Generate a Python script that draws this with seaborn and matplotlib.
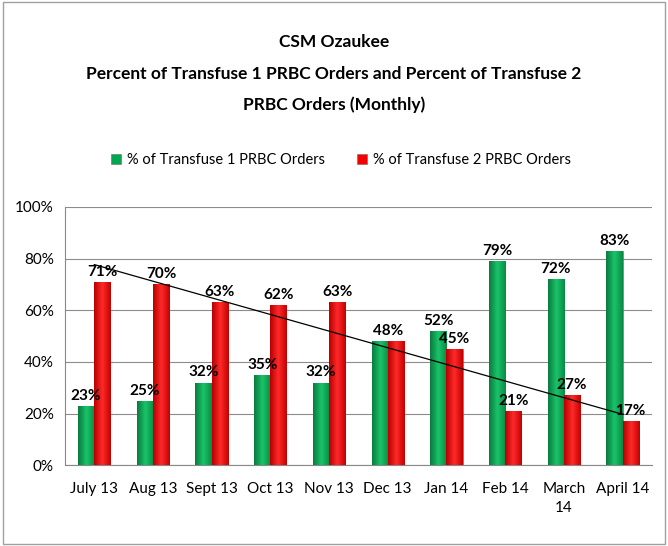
import numpy as np
import pandas as pd
import matplotlib
matplotlib.use('Agg')
import matplotlib.pyplot as plt
from matplotlib.colors import LinearSegmentedColormap
from matplotlib.patches import Rectangle
import seaborn as sns

# --- data ---
months = ['July 13', 'Aug 13', 'Sept 13', 'Oct 13', 'Nov 13', 'Dec 13',
          'Jan 14', 'Feb 14', 'March\n14', 'April 14']
transfuse_1 = [23, 25, 32, 35, 32, 48, 52, 79, 72, 83]
transfuse_2 = [71, 70, 63, 62, 63, 48, 45, 21, 27, 17]
series_names = ['% of Transfuse 1 PRBC Orders', '% of Transfuse 2 PRBC Orders']
title_lines = ['CSM Ozaukee',
               'Percent of Transfuse 1 PRBC Orders and Percent of Transfuse 2',
               'PRBC Orders (Monthly)']

df = pd.DataFrame({
    'month': months * 2,
    'pct': transfuse_1 + transfuse_2,
    'series': [series_names[0]] * len(months) + [series_names[1]] * len(months),
})

sns.set_style('white')
plt.rcParams['font.family'] = ['Lato', 'DejaVu Sans']
plt.rcParams['text.color'] = 'black'
plt.rcParams['xtick.color'] = 'black'
plt.rcParams['ytick.color'] = 'black'

fig = plt.figure(figsize=(6.68, 5.46), dpi=100)
ax = fig.add_axes([0.097, 0.148, 0.879, 0.473])

green = '#00a651'
red = '#f50000'
sns.barplot(data=df, x='month', y='pct', hue='series', order=months,
            hue_order=series_names, palette=[green, red], width=0.55,
            saturation=1, ax=ax, legend=False, zorder=3)

# fake the shaded look of the original bars
cmaps = {
    green: LinearSegmentedColormap.from_list('g', ['#0b7a3e', '#19c46a', '#0a8a45']),
    red: LinearSegmentedColormap.from_list('r', ['#b80000', '#ff2a2a', '#c40000']),
}
grad = np.linspace(0, 1, 64).reshape(1, -1)
n = len(months)
for i, p in enumerate(ax.patches):
    col = green if i < n else red
    x0, w, h = p.get_x(), p.get_width(), p.get_height()
    im = ax.imshow(grad, extent=[x0, x0 + w, 0, h], aspect='auto',
                   cmap=cmaps[col], zorder=4)
    im.set_clip_path(p)
    p.set_edgecolor('#6a6a6a')
    p.set_linewidth(0.4)

# data labels (one shared label when both values match)
for i, p in enumerate(ax.patches):
    val = p.get_height()
    k = i % n
    xc = p.get_x() + p.get_width() / 2
    if transfuse_1[k] == transfuse_2[k]:
        if i >= n:
            continue
        xc = k
    ax.text(xc, val + 1.2, f'{val:.0f}%', ha='center', va='bottom',
            fontsize=11, fontweight='bold', zorder=6)

# linear trend of transfuse 2
xs = np.arange(n)
slope, icpt = np.polyfit(xs, transfuse_2, 1)
ax.plot(xs, slope * xs + icpt, color='black', lw=0.9, zorder=5)

ax.set_xlim(-0.5, n - 0.5)
ax.set_ylim(0, 100)
ax.set_yticks(range(0, 101, 20))
ax.set_yticklabels([f'{v}%' for v in range(0, 101, 20)], fontsize=11)
ax.set_xticks(xs)
ax.set_xticklabels(months, fontsize=11, linespacing=1.5)
ax.set_xlabel('')
ax.set_ylabel('')
ax.set_xticks(np.arange(-0.5, n, 1), minor=True)
ax.tick_params(axis='x', which='major', length=0, pad=12)
ax.tick_params(axis='x', which='minor', length=5, color='#888888', direction='out')
ax.tick_params(axis='y', length=5, color='#888888', direction='out', pad=3)
ax.yaxis.grid(True, color='#8c8c8c', lw=0.8, zorder=0)
for s in ['top', 'right']:
    ax.spines[s].set_visible(False)
ax.spines['left'].set_color('#888888')
ax.spines['bottom'].set_color('#888888')

for txt, ypos in zip(title_lines, [0.923, 0.864, 0.808]):
    fig.text(0.5, ypos, txt, ha='center', va='center', fontsize=12.5,
             fontweight='bold')

handles = [Rectangle((0, 0), 1, 1, facecolor=green, edgecolor='#6a6a6a', lw=0.4),
           Rectangle((0, 0), 1, 1, facecolor=red, edgecolor='#6a6a6a', lw=0.4)]
fig.legend(handles, series_names, loc='center', bbox_to_anchor=(0.51, 0.707),
           ncol=2, frameon=False, fontsize=10.5, handlelength=0.7,
           handleheight=0.7, handletextpad=0.4, columnspacing=2.2)

fig.patches.append(Rectangle((0.004, 0.004), 0.992, 0.992, transform=fig.transFigure,
                             fill=False, edgecolor='#a0a0a0', lw=1))

fig.savefig('out.png', dpi=100)
